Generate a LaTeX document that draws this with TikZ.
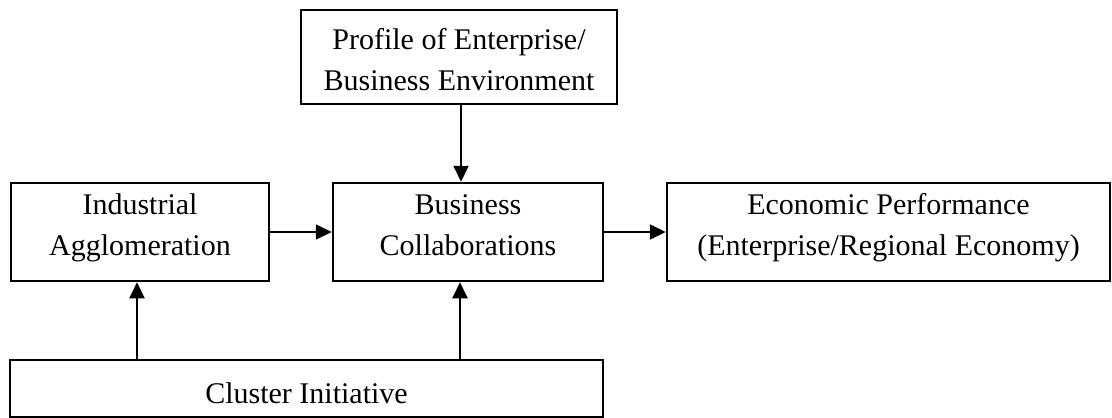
\documentclass[tikz,border=0pt]{standalone}
\usepackage{fontspec}
\setmainfont{Liberation Serif}
\usetikzlibrary{arrows.meta}
\begin{document}
\begin{tikzpicture}[x=1pt,y=-1pt,
  box/.style={draw, line width=2.5pt, inner sep=0pt, align=center,
              font=\fontsize{30}{41}\selectfont},
  twoline/.style={text height=71pt, text depth=25pt},
  conn/.style={line width=2pt, -{Triangle[length=16pt,width=15pt]}}]
\useasboundingbox (0,0) rectangle (1112,418);
\node[box, text height=71pt, text depth=5pt, minimum width=316pt, minimum height=94pt] (prof) at (459,57) {Profile of Enterprise/\\Business Environment};
\node[box, twoline, minimum width=258pt, minimum height=98pt] (ia) at (140,232) {Industrial\\Agglomeration};
\node[box, twoline, minimum width=270pt, minimum height=98pt] (bc) at (468,232) {Business\\Collaborations};
\node[box, twoline, minimum width=443pt, minimum height=98pt] (ep) at (888.5,232) {Economic Performance\\(Enterprise/Regional Economy)};
\node[box, text height=30pt, text depth=1pt, minimum width=593pt, minimum height=57pt] (ci) at (306.5,388.5) {Cluster Initiative};
\draw[conn] ([xshift=2pt]prof.south) -- ([xshift=-7pt]bc.north);
\draw[conn] (ia.east) -- (bc.west);
\draw[conn] (bc.east) -- (ep.west);
\draw[conn] ([xshift=-3pt]ia.south |- ci.north) -- ([xshift=-3pt]ia.south);
\draw[conn] ([xshift=-8pt]bc.south |- ci.north) -- ([xshift=-8pt]bc.south);
\end{tikzpicture}
\end{document}
